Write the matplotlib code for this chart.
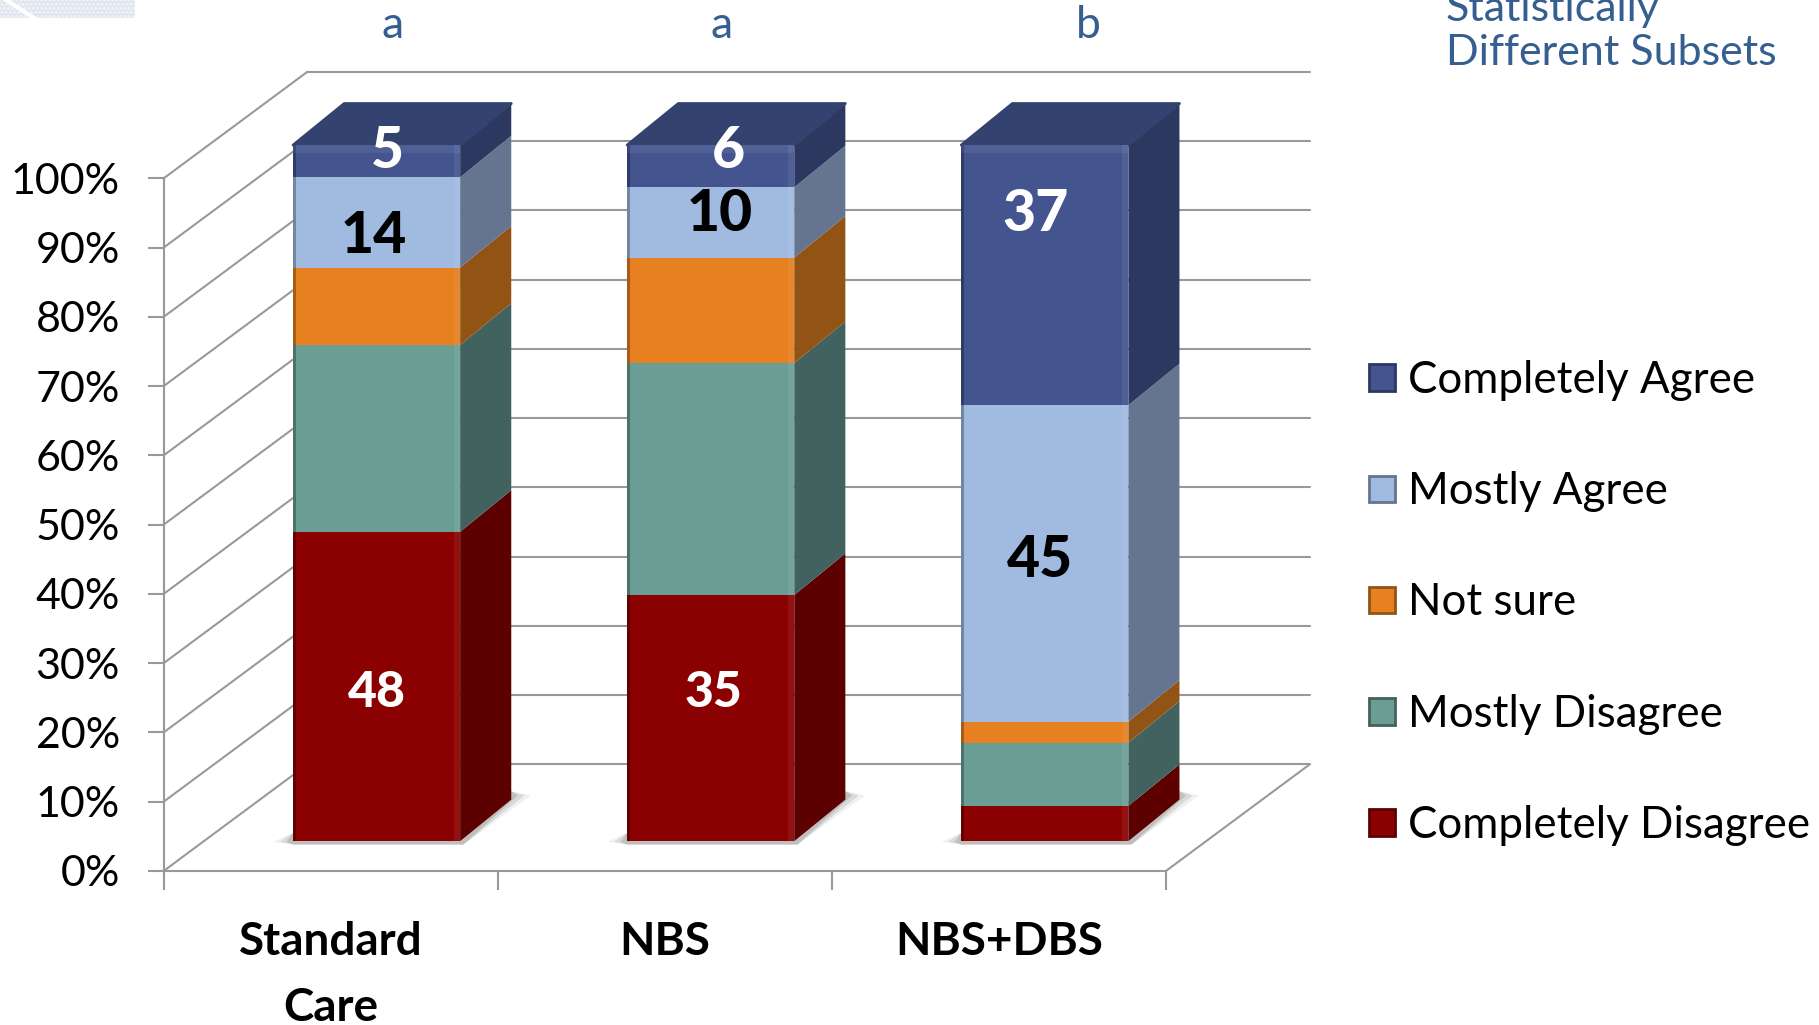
import matplotlib
matplotlib.use("Agg")
import matplotlib.pyplot as plt
from matplotlib.legend_handler import HandlerPatch
from matplotlib.patches import Patch, Polygon, Rectangle
from matplotlib.ticker import PercentFormatter

plt.rcParams["font.family"] = ["Lato", "DejaVu Sans"]

groups = ["Standard\nCare", "NBS", "NBS+DBS"]
subset_letters = ["a", "a", "b"]
responses = ["Completely Disagree", "Mostly Disagree", "Not sure",
             "Mostly Agree", "Completely Agree"]
completely_disagree = [48, 35, 5]
mostly_disagree = [29, 33, 9]
not_sure = [12, 15, 3]
mostly_agree = [14, 10, 45]
completely_agree = [5, 6, 37]
series = [completely_disagree, mostly_disagree, not_sure, mostly_agree, completely_agree]

front_colors = ["#8B0000", "#6A9E94", "#E68021", "#A0BAE0", "#43548F"]
side_colors = ["#5C0000", "#42625F", "#925414", "#66758F", "#2C385F"]
top_color = "#33426F"
grid_color = "#999999"
text_blue = "#365F91"

W, H = 1819, 1025
fig = plt.figure(figsize=(W / 100, H / 100), dpi=100, facecolor="white")
ax = fig.add_axes([163.6 / W, 154 / H, 1002.3 / W, 692.6 / H])
ax.set_xlim(0, 3)
ax.set_ylim(0, 100)
ax.patch.set_visible(False)

# Oblique projection: how far one full unit of depth shifts a point.
DEPTH_X, DEPTH_Y = 0.4306, 15.4
BAR_D0 = 0.28
BAR_LEFT, BAR_W = 0.267, 0.5
# Extent of a column's side face, and the small overshoot of column height
# that the perspective of the 3-D view gives.
BAR_DX, BAR_DY = 0.153, 6.0
BAR_STRETCH = 1.005


def shift(x, y, d):
    return x + DEPTH_X * d, y + DEPTH_Y * d


def to_back(point):
    return point[0] + BAR_DX, point[1] + BAR_DY


# Walls and floor
line = dict(color=grid_color, lw=1.5, clip_on=False, zorder=1, solid_capstyle="round")
for level in range(0, 101, 10):
    bx0, by = shift(0, level, 1)
    bx1, _ = shift(3, level, 1)
    ax.plot([0, bx0], [level, by], **line)
    ax.plot([bx0, bx1], [by, by], **line)
fx, fy = shift(3, 0, 1)
ax.plot([3, fx], [0, fy], **line)

# Axes frame, ticks and labels
for name in ("top", "right"):
    ax.spines[name].set_visible(False)
for name in ("left", "bottom"):
    ax.spines[name].set_color(grid_color)
    ax.spines[name].set_linewidth(1.5)
ax.set_yticks(range(0, 101, 10))
ax.yaxis.set_major_formatter(PercentFormatter(decimals=0))
ax.tick_params(axis="y", length=11.5, width=1.5, color=grid_color, labelsize=31, pad=20)
ax.set_xticks(range(4))
ax.set_xticklabels([])
ax.set_xticks([i + 0.5 for i in range(3)], minor=True)
ax.set_xticklabels(groups, minor=True, fontweight="bold", fontsize=33, linespacing=1.72)
ax.tick_params(axis="x", which="major", length=14, width=1.5, color=grid_color)
ax.tick_params(axis="x", which="minor", length=0, pad=36)

for i in range(3):
    left = i + BAR_LEFT
    right = left + BAR_W
    total = sum(s[i] for s in series)

    # Soft floor shadow around the base of each column
    x0, y0 = shift(left, 0, BAR_D0)
    x1 = x0 + BAR_W
    x2, y2 = to_back((x1, y0))
    for grow, alpha in ((0.06, 0.08), (0.04, 0.14), (0.02, 0.20)):
        ax.add_patch(Polygon(
            [(x0 - grow, y0 - 0.1), (x0, y0 - 0.5), (x1 + 0.01, y0 - 0.5),
             (x2 + grow, y2 + 0.6), (x2, y2 + 1.2), (x0, y0 + 1.2)],
            closed=True, fc="#555555", ec="none", alpha=alpha, zorder=2, clip_on=False))

    base = 0.0
    for k, values in enumerate(series):
        pct = values[i] / total * 100 * BAR_STRETCH
        top = base + pct
        # Right-hand face
        a = shift(right, base, BAR_D0)
        d = shift(right, top, BAR_D0)
        ax.add_patch(Polygon([a, to_back(a), to_back(d), d], closed=True, fc=side_colors[k],
                             ec="none", zorder=3, clip_on=False))
        # Front face with a bevelled left and right rim
        fx0, fy0 = shift(left, base, BAR_D0)
        ax.add_patch(Rectangle((fx0, fy0), BAR_W, pct, fc=front_colors[k], ec="none",
                               zorder=4, clip_on=False))
        ax.add_patch(Rectangle((fx0, fy0), 0.008, pct, fc="black", alpha=0.28, ec="none",
                               zorder=5, clip_on=False))
        ax.add_patch(Rectangle((fx0 + BAR_W - 0.018, fy0), 0.018, pct, fc="white",
                               alpha=0.07, ec="none", zorder=5, clip_on=False))
        base = top

    # Cap of the column
    p0 = shift(left, base, BAR_D0)
    p1 = shift(right, base, BAR_D0)
    cap = [p0, p1, to_back(p1), to_back(p0)]
    ax.add_patch(Polygon(cap, closed=True, fc=top_color, ec=top_color, lw=2,
                         joinstyle="round", zorder=3, clip_on=False))
    rx, ry = shift(left, base - 1.2, BAR_D0)
    ax.add_patch(Rectangle((rx, ry), BAR_W, 1.2, fc="white", alpha=0.07, ec="none",
                           zorder=5, clip_on=False))

# Value labels for the segments that carry one
label_spots = [
    (0, 4, 0.670, 103.9, "white"), (0, 3, 0.630, 91.6, "black"), (0, 0, 0.639, 25.8, "white"),
    (1, 4, 1.690, 103.9, "white"), (1, 3, 1.663, 94.8, "black"), (1, 0, 1.646, 25.8, "white"),
    (2, 4, 2.611, 94.8, "white"), (2, 3, 2.622, 44.9, "black"),
]
for g, r, x, y, color in label_spots:
    size = 41 if r != 0 else 36
    ax.text(x, y, str(series[r][g]), color=color, fontsize=size, fontweight=900,
            ha="center", va="center", zorder=6, clip_on=False)

# Subset letters and their caption
for px, letter in zip((393, 722, 1088), subset_letters):
    fig.text(px / W, 1 - 25 / H, letter, color=text_blue, fontsize=32, ha="center", va="center")
fig.text(1446 / W, 1 - 65 / H, "Statistically\nDifferent Subsets", color=text_blue,
         fontsize=31, ha="left", va="baseline", linespacing=1.2)

# Corner decoration at the top left
fig.add_artist(Rectangle((0, 1 - 18 / H), 135 / W, 18 / H, transform=fig.transFigure,
                         fc="#DDE4EE", ec="#EDF1F6", hatch="oooo", lw=0))
fig.add_artist(plt.Line2D([6 / W, 34 / W], [1, 1 - 18 / H], color="white", lw=3))


class BevelHandler(HandlerPatch):
    def create_artists(self, legend, orig, xd, yd, width, height, fontsize, trans):
        side = 19
        box = Rectangle((-xd + 1.5, -yd + (height - side) / 2), side, side,
                        fc=orig.get_facecolor(), ec=orig.get_edgecolor(), lw=2, transform=trans)
        return [box]


handles = [Patch(fc=f, ec=s) for f, s in zip(front_colors, side_colors)][::-1]
fig.legend(handles, responses[::-1], loc="upper left",
           bbox_to_anchor=(1367 / W, 1 - 360 / H), bbox_transform=fig.transFigure,
           frameon=False, fontsize=31.6, labelspacing=1.6, handlelength=0.7, handletextpad=0.23,
           borderpad=0, borderaxespad=0, handler_map={Patch: BevelHandler()})

fig.savefig("out.png", dpi=100, facecolor="white")
